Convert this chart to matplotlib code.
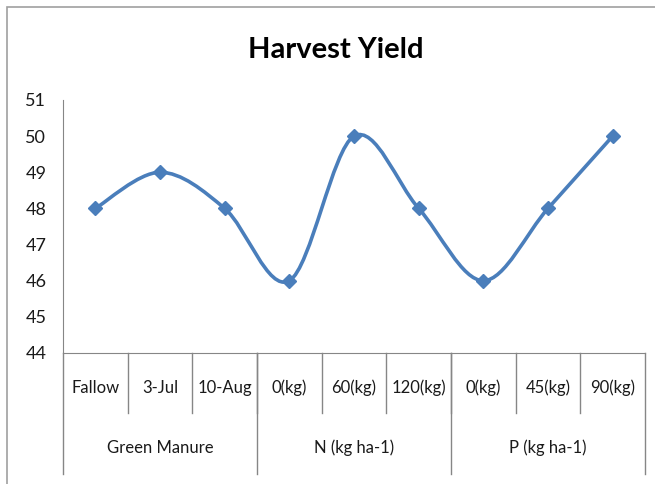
import matplotlib.pyplot as plt
from matplotlib.path import Path
from matplotlib.patches import PathPatch, Rectangle
import numpy as np

kategorie = ["Fallow", "3-Jul", "10-Aug", "0(kg)", "60(kg)", "120(kg)", "0(kg)", "45(kg)", "90(kg)"]
grupy = ["Green Manure", "N (kg ha-1)", "P (kg ha-1)"]
rozmiar_grupy = [3, 3, 3]
plon = [48, 49, 48, 46, 50, 48, 46, 48, 50]

kolor_linii = "#4A7EBB"
kolor_osi = "#868686"
plt.rcParams["font.family"] = ["Lato", "DejaVu Sans"]

W, H = 655, 484
fig = plt.figure(figsize=(W / 100, H / 100), dpi=100)
ax = fig.add_axes([63 / W, 1 - 353 / H, (645 - 63) / W, (353 - 100) / H])

x = np.arange(len(plon)) + 0.5
y = np.array(plon, dtype=float)

# gladka linia jak w Excelu (Catmull-Rom -> Bezier)
px = np.concatenate([[x[0]], x, [x[-1]]])
py = np.concatenate([[y[0]], y, [y[-1]]])
wierzcholki = [(x[0], y[0])]
kody = [Path.MOVETO]
for i in range(1, len(px) - 2):
    c1 = (px[i] + (px[i + 1] - px[i - 1]) / 6, py[i] + (py[i + 1] - py[i - 1]) / 6)
    c2 = (px[i + 1] - (px[i + 2] - px[i]) / 6, py[i + 1] - (py[i + 2] - py[i]) / 6)
    wierzcholki += [c1, c2, (px[i + 1], py[i + 1])]
    kody += [Path.CURVE4] * 3
ax.add_patch(PathPatch(Path(wierzcholki, kody), fill=False, edgecolor=kolor_linii, lw=2.6, capstyle="round"))
ax.plot(x, y, linestyle="none", marker="D", markersize=7, color=kolor_linii)

ax.set_xlim(0, len(plon))
ax.set_ylim(44, 51)
ax.set_yticks(range(44, 52))
ax.tick_params(axis="y", length=0, pad=12, labelsize=13, labelcolor="#1a1a1a")
ax.set_xticks([])
for s in ["top", "right"]:
    ax.spines[s].set_visible(False)
ax.spines["left"].set_color(kolor_osi)
ax.spines["bottom"].set_color(kolor_osi)

# os kategorii wielopoziomowa
trans = ax.get_xaxis_transform()
y1 = -(413 - 353) / (353 - 100)
y2 = -(474 - 353) / (353 - 100)
for i in range(1, len(kategorie)):
    ax.plot([i, i], [0, y1], color=kolor_osi, lw=1, transform=trans, clip_on=False)
for i, k in enumerate(kategorie):
    ax.text(i + 0.5, -(388 - 353) / (353 - 100), k, transform=trans, ha="center", va="center",
            fontsize=12, color="#1a1a1a")
start = 0
granice = [0]
for g, n in zip(grupy, rozmiar_grupy):
    ax.text(start + n / 2, -(448 - 353) / (353 - 100), g, transform=trans, ha="center", va="center",
            fontsize=12, color="#1a1a1a")
    start += n
    granice.append(start)
for b in granice:
    ax.plot([b, b], [0, y2], color=kolor_osi, lw=1, transform=trans, clip_on=False)

fig.text(336 / W, 1 - 50 / H, "Harvest Yield", ha="center", va="center", fontsize=21, fontweight="bold")
fig.patches.append(Rectangle((7 / W, -0.1), 1.2, 1 - 7 / H + 0.1, transform=fig.transFigure,
                             fill=False, edgecolor="#A0A0A0", lw=1.2))

fig.savefig("out.png", dpi=100)
